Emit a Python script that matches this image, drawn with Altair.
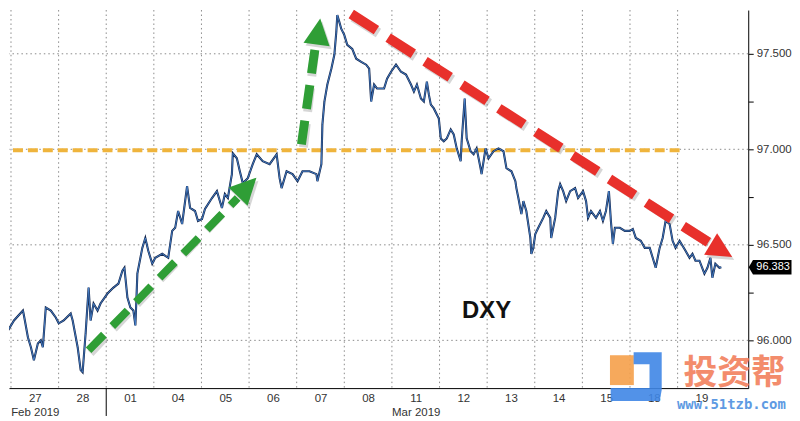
import altair as alt
import pandas as pd

# ---------------- data ----------------
# trading-day axis: each integer step is one trading day (0 = start of 27 Feb)
day_labels = ['27', '28', '01', '04', '05', '06', '07', '08',
              '11', '12', '13', '14', '15', '18', '19']
month_labels = {0: 'Feb 2019', 8: 'Mar 2019'}
month_boundary = [2]

t = [-0.063, 0.063, 0.251, 0.272, 0.355, 0.418, 0.481, 0.564, 0.627, 0.669,
     0.731, 0.836, 0.940, 1.003, 1.107, 1.254, 1.295, 1.400, 1.463, 1.504,
     1.567, 1.630, 1.672, 1.734, 1.818, 1.880, 2.027, 2.152, 2.257, 2.340,
     2.382, 2.445, 2.507, 2.570, 2.612, 2.633, 2.654, 2.758, 2.821, 2.883,
     2.967, 3.030, 3.176, 3.302, 3.385, 3.448, 3.510, 3.594, 3.698, 3.761,
     3.865, 3.928, 4.012, 4.074, 4.221, 4.325, 4.430, 4.492, 4.555, 4.639,
     4.659, 4.743, 4.806, 4.868, 4.973, 5.077, 5.161, 5.286, 5.432, 5.579,
     5.641, 5.683, 5.788, 5.913, 6.018, 6.122, 6.268, 6.414, 6.435, 6.519,
     6.540, 6.582, 6.644, 6.728, 6.791, 6.832, 6.853, 6.895, 6.937, 6.999,
     7.062, 7.167, 7.250, 7.355, 7.459, 7.522, 7.564, 7.626, 7.689, 7.835,
     7.898, 7.982, 8.086, 8.190, 8.295, 8.400, 8.462, 8.525, 8.609, 8.671,
     8.734, 8.776, 8.817, 8.880, 8.985, 9.026, 9.089, 9.152, 9.235, 9.298,
     9.361, 9.444, 9.465, 9.528, 9.570, 9.653, 9.716, 9.779, 9.862, 9.883,
     9.967, 10.029, 10.134, 10.238, 10.343, 10.405, 10.510, 10.593, 10.614, 10.656,
     10.719, 10.761, 10.823, 10.907, 10.928, 10.969, 11.011, 11.074, 11.178, 11.241,
     11.325, 11.345, 11.429, 11.492, 11.533, 11.596, 11.659, 11.743, 11.847, 11.910,
     12.014, 12.077, 12.119, 12.181, 12.286, 12.369, 12.432, 12.495, 12.557, 12.599,
     12.641, 12.683, 12.787, 12.892, 12.996, 13.059, 13.122, 13.226, 13.310, 13.414,
     13.477, 13.540, 13.623, 13.686, 13.748, 13.832, 13.895, 13.957, 14.041, 14.103,
     14.166, 14.250, 14.312, 14.375, 14.459, 14.563, 14.626, 14.689, 14.730, 14.793,
     14.877, 14.918]

dxy = [96.052, 96.104, 96.156, 96.130, 96.016, 95.964, 95.896, 95.984, 96.000, 95.964,
       96.172, 96.156, 96.120, 96.089, 96.104, 96.141, 96.104, 95.964, 95.844, 95.833,
       96.036, 96.276, 96.104, 96.193, 96.156, 96.193, 96.245, 96.276, 96.297, 96.365,
       96.380, 96.224, 96.172, 96.156, 96.078, 96.208, 96.349, 96.484, 96.536, 96.469,
       96.401, 96.432, 96.453, 96.432, 96.573, 96.589, 96.677, 96.609, 96.807, 96.693,
       96.677, 96.625, 96.635, 96.688, 96.745, 96.781, 96.693, 96.766, 96.745, 96.870,
       96.979, 96.953, 96.885, 96.823, 96.849, 96.922, 96.974, 96.938, 96.922, 96.974,
       96.849, 96.797, 96.885, 96.870, 96.833, 96.885, 96.885, 96.870, 96.833, 96.922,
       97.130, 97.250, 97.339, 97.422, 97.495, 97.615, 97.703, 97.667, 97.630, 97.599,
       97.547, 97.526, 97.474, 97.458, 97.443, 97.422, 97.250, 97.339, 97.318, 97.318,
       97.370, 97.406, 97.443, 97.406, 97.391, 97.339, 97.302, 97.339, 97.266, 97.250,
       97.354, 97.286, 97.234, 97.214, 97.161, 97.057, 97.042, 97.057, 97.104, 97.078,
       97.005, 96.938, 97.042, 97.266, 97.057, 96.990, 96.974, 97.005, 96.901, 96.870,
       97.005, 96.953, 96.990, 97.005, 96.990, 96.901, 96.885, 96.833, 96.797, 96.745,
       96.661, 96.729, 96.677, 96.536, 96.453, 96.484, 96.557, 96.589, 96.641, 96.677,
       96.641, 96.536, 96.641, 96.781, 96.818, 96.781, 96.729, 96.781, 96.797, 96.745,
       96.781, 96.729, 96.641, 96.677, 96.641, 96.677, 96.625, 96.677, 96.781, 96.625,
       96.505, 96.589, 96.589, 96.573, 96.573, 96.583, 96.536, 96.521, 96.484, 96.484,
       96.432, 96.380, 96.484, 96.536, 96.625, 96.609, 96.521, 96.484, 96.521, 96.495,
       96.469, 96.432, 96.453, 96.417, 96.417, 96.349, 96.380, 96.432, 96.328, 96.401,
       96.380, 96.383]

last_value = 96.383
y_ticks = [96.0, 96.25, 96.5, 96.75, 97.0, 97.25, 97.5]
grid_levels = [96.0, 96.5, 97.0, 97.5]
day_bounds = list(range(15))

# annotation anchors (in trading-day / index units)
level_line = {'t': [0.042], 't2': [14.06], 'v': [96.995], 'v2': [96.995]}
green_diag = {'t': [1.63], 't2': [4.76], 'v': [95.948], 'v2': [96.745]}
green_vert = {'t': [6.10], 't2': [6.39], 'v': [97.026], 'v2': [97.536]}
red_down = {'t': [7.146], 't2': [14.668], 'v': [97.708], 'v2': [96.510]}
heads = {'t': [4.962, 6.456, 14.92], 'v': [96.802, 97.617, 96.47],
         'angle': [44, 8, 121], 'size': [700, 700, 640],
         'color': ['#2f9e36', '#2f9e36', '#e8302b']}
label_text = {'t': [9.987], 'v': [96.156], 'text': ['DXY']}

# ---------------- chart ----------------
W, H = 743, 380
FONT = 'Liberation Sans'
xs = alt.Scale(domain=[-0.042, 15.483], nice=False, zero=False)
ys = alt.Scale(domain=[95.75, 97.729], nice=False, zero=False)

lab_list = "[" + ",".join("'%s'" % s for s in day_labels) + "]"
label_expr = ("datum.value == 0.5 ? ['%s', '%s'] : datum.value == 8.5 ? ['%s', '%s'] : %s[floor(datum.value)]"
              % (day_labels[0], month_labels[0], day_labels[8], month_labels[8], lab_list))

series = pd.DataFrame({'t': t[:len(dxy)], 'v': dxy[:len(t)]})

x_axis = alt.Axis(values=[i + 0.5 for i in range(len(day_labels))], labelExpr=label_expr,
                  grid=False, ticks=False, domainColor='#000', domainWidth=1,
                  labelFont=FONT, labelFontSize=11.5, labelColor='#333', labelPadding=4,
                  labelLineHeight=15, labelOverlap=False, labelFlush=False, title=None)
y_axis = alt.Axis(orient='right', values=y_ticks,
                  labelExpr="(datum.value * 4) % 2 == 0 ? format(datum.value, '.3f') : ''",
                  grid=False, tickSize=5, tickColor='#000', domainColor='#000',
                  labelFont=FONT, labelFontSize=11.5, labelColor='#333', labelPadding=3,
                  title=None)


def X(field='t'):
    return alt.X(field + ':Q', scale=xs, axis=x_axis)


def Y(field='v'):
    return alt.Y(field + ':Q', scale=ys, axis=y_axis)


vgrid = alt.Chart(pd.DataFrame({'t': day_bounds})).mark_rule(
    color='#8a8a8a', strokeDash=[1.5, 3], strokeWidth=1).encode(x=X())
hgrid = alt.Chart(pd.DataFrame({'v': grid_levels})).mark_rule(
    color='#8a8a8a', strokeDash=[1.5, 3], strokeWidth=1).encode(y=Y())

month_tick = alt.Chart(pd.DataFrame({'t': month_boundary})).mark_rule(
    color='#000', strokeWidth=1).encode(x=X(), y=alt.value(H), y2=alt.value(H + 28))


def seg(d, color, width, dash, shadow=False):
    kw = dict(color=color, strokeWidth=width, strokeDash=dash)
    if shadow:
        kw = dict(color='#777', strokeWidth=width, strokeDash=dash, opacity=0.3,
                  xOffset=2, yOffset=3)
    return alt.Chart(pd.DataFrame(d)).mark_rule(**kw).encode(
        x=X(), x2='t2:Q', y=Y(), y2='v2:Q')


price_dark = alt.Chart(series).mark_line(color='#13264d', strokeWidth=2.1, clip=True).encode(
    x=X(), y=Y())
price_blue = alt.Chart(series).mark_line(color='#4f8fdc', strokeWidth=0.8, clip=True).encode(
    x=X(), y=Y())

level = seg(level_line, '#efb43c', 4, [10, 5])
g1s = seg(green_diag, None, 8, [22, 12], shadow=True)
g1 = seg(green_diag, '#2f9e36', 8, [22, 12])
g2s = seg(green_vert, None, 9, [24, 12], shadow=True)
g2 = seg(green_vert, '#2f9e36', 9, [24, 12])
rs = seg(red_down, None, 10, [30, 14], shadow=True)
r = seg(red_down, '#e8302b', 10, [30, 14])

tri = 'M 0 -1 L 1 1 L -1 1 Z'
heads_df = pd.DataFrame(heads)
head_sh = alt.Chart(heads_df).mark_point(shape=tri, filled=True, opacity=0.3, color='#777',
                                         xOffset=2, yOffset=3).encode(
    x=X(), y=Y(),
    angle=alt.Angle('angle:Q', scale=None), size=alt.Size('size:Q', scale=None))
head = alt.Chart(heads_df).mark_point(shape=tri, filled=True, opacity=1).encode(
    x=X(), y=Y(),
    angle=alt.Angle('angle:Q', scale=None), size=alt.Size('size:Q', scale=None),
    color=alt.Color('color:N', scale=None))

dxy_text = alt.Chart(pd.DataFrame(label_text)).mark_text(
    font=FONT, fontSize=24, fontWeight='bold', color='#111').encode(
    x=X(), y=Y(), text='text:N')

# last value tag on the right axis
tag_shape = 'M -1 0 L -0.8 -0.34 L 1 -0.34 L 1 0.34 L -0.8 0.34 Z'
last_df = pd.DataFrame({'v': [last_value], 'text': [format(last_value, '.3f')]})
tag = alt.Chart(last_df).mark_point(shape=tag_shape, filled=True, color='#000', opacity=1,
                                    size=1849).encode(
    x=alt.value(W + 22), y=Y())
tag_text = alt.Chart(last_df).mark_text(font=FONT, fontSize=11, color='#fff').encode(
    x=alt.value(W + 25), y=Y(), text='text:N')

# watermark (投资帮 / www.51tzb.com)
wm_logo_blue = ('M -0.09 -0.86 L 0.9 -0.86 L 0.9 0.47 L 0.83 0.86 L -0.9 0.86 L -0.9 0.4 '
                'L 0.47 0.4 L 0.47 -0.44 L -0.09 -0.44 Z')
wm_logo_org = 'M -0.8 -1 L 0.8 -1 L 0.8 1 L -0.8 1 Z'
wm_df = pd.DataFrame({'t': [13.13], 'v': [95.81]})
wm_org_df = pd.DataFrame({'t': [12.83], 'v': [95.844]})
logo_b = alt.Chart(wm_df).mark_point(shape=wm_logo_blue, filled=True, color='#3f86e6',
                                     opacity=0.9, size=3249).encode(x=X(), y=Y())
logo_o = alt.Chart(wm_org_df).mark_point(shape=wm_logo_org, filled=True, color='#f5a04a',
                                         opacity=0.9, size=900).encode(x=X(), y=Y())
wm_text = alt.Chart(pd.DataFrame({'t': [15.19], 'v': [95.825], 'text': ['投资帮']})).mark_text(
    font='Noto Sans CJK SC', fontSize=34, fontWeight='bold', color='#f2805d', opacity=0.9).encode(
    x=X(), y=Y(), text='text:N')
wm_url = alt.Chart(pd.DataFrame({'t': [15.13], 'v': [95.661], 'text': ['www.51tzb.com']})).mark_text(
    font='DejaVu Sans Mono', fontSize=14, fontWeight='bold', color='#4d90e0', opacity=0.9).encode(
    x=X(), y=Y(), text='text:N')

chart = alt.layer(
    vgrid, hgrid, month_tick, level, price_dark, price_blue,
    g1s, g2s, rs, head_sh, g1, g2, r, head, dxy_text, tag, tag_text,
    logo_o, logo_b, wm_text, wm_url
).properties(width=W, height=H, padding=0, background='#ffffff').configure_view(stroke=None)

chart.save("out.html", embed_options={"renderer": "svg", "actions": False})
